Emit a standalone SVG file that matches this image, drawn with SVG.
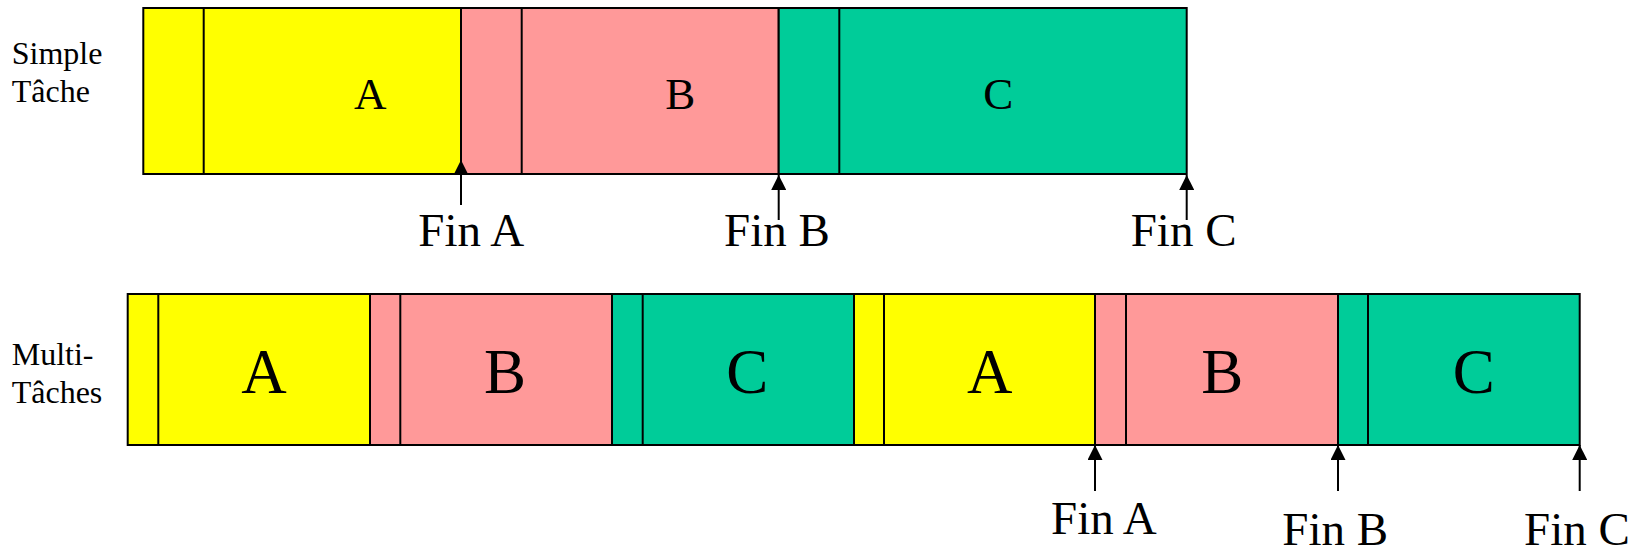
<svg xmlns="http://www.w3.org/2000/svg" width="1638" height="550" viewBox="0 0 1638 550">
  <style>
    .seg { stroke: #000; stroke-width: 2; }
    .ya { fill: #FFFF00; }
    .pb { fill: #FF9999; }
    .gc { fill: #00CC99; }
    .div { stroke: #000; stroke-width: 2; }
    .t { font-family: "Liberation Serif", "Times New Roman", serif; fill: #000; }
    .lbl1 { font-size: 45px; text-anchor: middle; }
    .lbl2 { font-size: 63px; text-anchor: middle; }
    .side { font-size: 32px; }
    .fin { font-size: 47px; }
    .arr { stroke: #000; stroke-width: 2; fill: none; marker-end: url(#ah); }
  </style>
  <defs>
    <marker id="ah" markerUnits="userSpaceOnUse" viewBox="0 0 16 16" refX="16" refY="8" markerWidth="16" markerHeight="15" orient="auto">
      <path d="M0,0 L16,8 L0,16 z" fill="#000"/>
    </marker>
  </defs>
  <rect width="1638" height="550" fill="#fff"/>

  <g id="label-simple">
    <text class="t side" x="11.7" y="64.3">Simple</text>
    <text class="t side" x="11.7" y="101.7">Tâche</text>
  </g>
  <g id="label-multi">
    <text class="t side" x="11.7" y="365">Multi-</text>
    <text class="t side" x="11.7" y="403.3">Tâches</text>
  </g>

  <!-- Simple tâche row -->
  <g id="s-taskA">
    <rect class="seg ya" x="143.3" y="8" width="317.7" height="166"/>
    <line class="div" x1="203.7" y1="8" x2="203.7" y2="174"/>
    <text class="t lbl1" x="370.3" y="108.7">A</text>
  </g>
  <g id="s-taskB">
    <rect class="seg pb" x="461" y="8" width="317.7" height="166"/>
    <line class="div" x1="521.7" y1="8" x2="521.7" y2="174"/>
    <text class="t lbl1" x="680.3" y="108.7">B</text>
  </g>
  <g id="s-taskC">
    <rect class="seg gc" x="778.7" y="8" width="408" height="166"/>
    <line class="div" x1="839.3" y1="8" x2="839.3" y2="174"/>
    <text class="t lbl1" x="998.3" y="108.7">C</text>
  </g>

  <!-- Multi-tâches row -->
  <g id="m-taskA1">
    <rect class="seg ya" x="127.7" y="294" width="242.3" height="151"/>
    <line class="div" x1="158.3" y1="294" x2="158.3" y2="445"/>
    <text class="t lbl2" x="264" y="393.3">A</text>
  </g>
  <g id="m-taskB1">
    <rect class="seg pb" x="370" y="294" width="242" height="151"/>
    <line class="div" x1="400.3" y1="294" x2="400.3" y2="445"/>
    <text class="t lbl2" x="505" y="393.3">B</text>
  </g>
  <g id="m-taskC1">
    <rect class="seg gc" x="612" y="294" width="242" height="151"/>
    <line class="div" x1="642.7" y1="294" x2="642.7" y2="445"/>
    <text class="t lbl2" x="747.3" y="393.3">C</text>
  </g>
  <g id="m-taskA2">
    <rect class="seg ya" x="854" y="294" width="241" height="151"/>
    <line class="div" x1="884" y1="294" x2="884" y2="445"/>
    <text class="t lbl2" x="989.7" y="393.3">A</text>
  </g>
  <g id="m-taskB2">
    <rect class="seg pb" x="1095" y="294" width="243" height="151"/>
    <line class="div" x1="1126" y1="294" x2="1126" y2="445"/>
    <text class="t lbl2" x="1222.3" y="393.3">B</text>
  </g>
  <g id="m-taskC2">
    <rect class="seg gc" x="1338" y="294" width="241.7" height="151"/>
    <line class="div" x1="1368" y1="294" x2="1368" y2="445"/>
    <text class="t lbl2" x="1473.7" y="393.3">C</text>
  </g>

  <g id="connectors">
    <line class="arr" x1="461" y1="205" x2="461" y2="160"/>
    <line class="arr" x1="778.7" y1="220" x2="778.7" y2="175"/>
    <line class="arr" x1="1186.7" y1="220" x2="1186.7" y2="175"/>
    <line class="arr" x1="1095" y1="491" x2="1095" y2="445"/>
    <line class="arr" x1="1338" y1="491" x2="1338" y2="445"/>
    <line class="arr" x1="1579.7" y1="491" x2="1579.7" y2="445"/>
  </g>

  <g id="fin-labels">
    <text class="t fin" x="418.3" y="246">Fin A</text>
    <text class="t fin" x="724" y="246">Fin B</text>
    <text class="t fin" x="1130.7" y="246">Fin C</text>
    <text class="t fin" x="1051" y="534">Fin A</text>
    <text class="t fin" x="1282.3" y="545">Fin B</text>
    <text class="t fin" x="1524" y="545">Fin C</text>
  </g>
</svg>
